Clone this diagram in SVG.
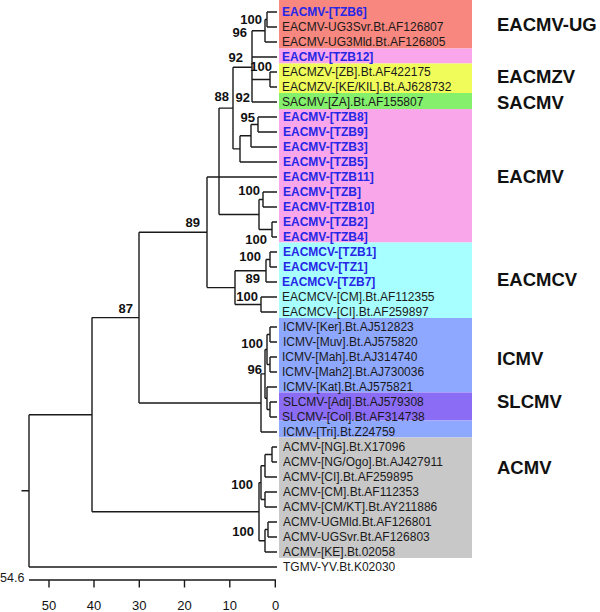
<svg xmlns="http://www.w3.org/2000/svg" width="600" height="612" viewBox="0 0 600 612">
<style>
.t{font-family:"Liberation Sans",Arial,sans-serif;font-size:12px;fill:#1a1a1a}
.b{font-family:"Liberation Sans",Arial,sans-serif;font-size:12px;font-weight:bold;fill:#2626e6}
.bs{font-family:"Liberation Sans",Arial,sans-serif;font-size:13px;font-weight:bold;fill:#111;text-anchor:end}
.cl{font-family:"Liberation Sans",Arial,sans-serif;font-size:18.5px;font-weight:bold;fill:#111}
.ax{font-family:"Liberation Sans",Arial,sans-serif;font-size:13px;fill:#111;text-anchor:middle}
.ln{fill:none;stroke:#1a1a1a;stroke-width:1.4}
</style>
<rect width="600" height="612" fill="#fff"/>
<g id="bands">
<rect x="279" y="0" width="193" height="48.5" fill="#f8877f"/>
<rect x="279" y="48.5" width="193" height="15" fill="#f9a7ea"/>
<rect x="279" y="63.5" width="193" height="29.5" fill="#f0fc5a"/>
<rect x="279" y="93" width="193" height="16" fill="#84f06c"/>
<rect x="279" y="109" width="193" height="133.5" fill="#f9a7ea"/>
<rect x="279" y="242.5" width="193" height="75.5" fill="#a8ffff"/>
<rect x="279" y="318" width="193" height="74.5" fill="#8fa8ff"/>
<rect x="279" y="392.5" width="193" height="28" fill="#8b6cf5"/>
<rect x="279" y="420.5" width="193" height="17" fill="#8fa8ff"/>
<rect x="279" y="437.5" width="193" height="120.5" fill="#c8c8c8"/>
</g>
<g id="connectors">
<path class="ln" d="M21.5 490.8H29M29 414.7V567M29 414.7H92M29 567H277
M92 317.6V511.7M92 317.6H139M92 511.7H259
M139 232.3V403M139 232.3H207M139 403H261
M207 177V287.6M207 177H277M207 287.6H235
M219 108.1V214.5M219 108.1H233M219 214.5H259
M233 67.3V148.9M233 67.3H252M233 148.9H240
M252 30.75V102M252 30.75H265M252 57H277M252 79.5H270M252 102H277
M265 19.5V42M265 19.5H267M265 42H277
M267 12V27M267 12H277M267 27H277
M270 72V87M270 72H277M270 87H277
M240 135.75V162M240 135.75H251M240 162H277
M251 124.5V147M251 124.5H258M251 147H277
M258 117V132M258 117H277M258 132H277
M259 199.5V229.5M259 199.5H263M259 229.5H272
M263 192V207M263 192H277M263 207H277
M272 222V237M272 222H277M272 237H277
M235 270.75V304.5M235 270.75H266M235 304.5H261
M266 259.5V282M266 259.5H270M266 282H277
M270 252V267M270 252H277M270 267H277
M261 297V312M261 297H277M261 312H277
M261 373.9V432M261 373.9H265M261 432H277
M265 349.5V398.25M265 349.5H267M265 398.25H267
M267 334.5V364.5M267 334.5H270M267 364.5H270
M270 327V342M270 327H277M270 342H277
M270 357V372M270 357H277M270 372H277
M267 387V409.5M267 387H277M267 409.5H270
M270 402V417M270 402H277M270 417H277
M259 482.6V540.75M259 482.6H261M259 540.75H265
M261 465.75V499.5M261 465.75H265M261 499.5H265
M265 454.5V477M265 454.5H272M265 477H277
M272 447V462M272 447H277M272 462H277
M265 492V507M265 492H277M265 507H277
M265 529.5V552M265 529.5H268M265 552H277
M268 522V537M268 522H277M268 537H277"/>
</g>
<g id="bootstrap">
<text class="bs" x="262" y="23.6">100</text>
<text class="bs" x="247" y="36.6">96</text>
<text class="bs" x="243" y="61.6">92</text>
<text class="bs" x="272" y="70.6">100</text>
<text class="bs" x="229" y="100.6">88</text>
<text class="bs" x="250" y="101.6">92</text>
<text class="bs" x="255" y="121.6">95</text>
<text class="bs" x="260" y="195">100</text>
<text class="bs" x="200" y="226.6">89</text>
<text class="bs" x="267" y="244">100</text>
<text class="bs" x="261" y="261">100</text>
<text class="bs" x="260" y="282.6">89</text>
<text class="bs" x="258" y="301">100</text>
<text class="bs" x="133" y="312.6">87</text>
<text class="bs" x="263" y="347.6">100</text>
<text class="bs" x="262" y="374">96</text>
<text class="bs" x="253" y="489">100</text>
<text class="bs" x="254" y="536">100</text>
</g>
<g id="leaves">
<g id="n1"><text class="b" x="282" y="16.3">EACMV-[TZB6]</text></g>
<g id="n2"><text class="t" x="282" y="31.3">EACMV-UG3Svr.Bt.AF126807</text></g>
<g id="n3"><text class="t" x="282" y="46.3">EACMV-UG3Mld.Bt.AF126805</text></g>
<g id="n4"><text class="b" x="282" y="61.3">EACMV-[TZB12]</text></g>
<g id="n5"><text class="t" x="282" y="76.3">EACMZV-[ZB].Bt.AF422175</text></g>
<g id="n6"><text class="t" x="282" y="91.3">EACMZV-[KE/KIL].Bt.AJ628732</text></g>
<g id="n7"><text class="t" x="282" y="106.3">SACMV-[ZA].Bt.AF155807</text></g>
<g id="n8"><text class="b" x="283" y="121.3">EACMV-[TZB8]</text></g>
<g id="n9"><text class="b" x="283" y="136.3">EACMV-[TZB9]</text></g>
<g id="n10"><text class="b" x="283" y="151.3">EACMV-[TZB3]</text></g>
<g id="n11"><text class="b" x="283" y="166.3">EACMV-[TZB5]</text></g>
<g id="n12"><text class="b" x="283" y="181.3">EACMV-[TZB11]</text></g>
<g id="n13"><text class="b" x="283" y="196.3">EACMV-[TZB]</text></g>
<g id="n14"><text class="b" x="283" y="211.3">EACMV-[TZB10]</text></g>
<g id="n15"><text class="b" x="283" y="226.3">EACMV-[TZB2]</text></g>
<g id="n16"><text class="b" x="283" y="241.3">EACMV-[TZB4]</text></g>
<g id="n17"><text class="b" x="283" y="256.3">EACMCV-[TZB1]</text></g>
<g id="n18"><text class="b" x="283" y="271.3">EACMCV-[TZ1]</text></g>
<g id="n19"><text class="b" x="282" y="286.3">EACMCV-[TZB7]</text></g>
<g id="n20"><text class="t" x="282" y="301.3">EACMCV-[CM].Bt.AF112355</text></g>
<g id="n21"><text class="t" x="282" y="316.3">EACMCV-[CI].Bt.AF259897</text></g>
<g id="n22"><text class="t" x="283" y="331.3">ICMV-[Ker].Bt.AJ512823</text></g>
<g id="n23"><text class="t" x="283" y="346.3">ICMV-[Muv].Bt.AJ575820</text></g>
<g id="n24"><text class="t" x="282" y="361.3">ICMV-[Mah].Bt.AJ314740</text></g>
<g id="n25"><text class="t" x="282" y="376.3">ICMV-[Mah2].Bt.AJ730036</text></g>
<g id="n26"><text class="t" x="283" y="391.3">ICMV-[Kat].Bt.AJ575821</text></g>
<g id="n27"><text class="t" x="283" y="406.3">SLCMV-[Adi].Bt.AJ579308</text></g>
<g id="n28"><text class="t" x="282" y="421.3">SLCMV-[Col].Bt.AF314738</text></g>
<g id="n29"><text class="t" x="283" y="436.3">ICMV-[Tri].Bt.Z24759</text></g>
<g id="n30"><text class="t" x="283" y="451.3">ACMV-[NG].Bt.X17096</text></g>
<g id="n31"><text class="t" x="283" y="466.3">ACMV-[NG/Ogo].Bt.AJ427911</text></g>
<g id="n32"><text class="t" x="283" y="481.3">ACMV-[CI].Bt.AF259895</text></g>
<g id="n33"><text class="t" x="283" y="496.3">ACMV-[CM].Bt.AF112353</text></g>
<g id="n34"><text class="t" x="283" y="511.3">ACMV-[CM/KT].Bt.AY211886</text></g>
<g id="n35"><text class="t" x="283" y="526.3">ACMV-UGMld.Bt.AF126801</text></g>
<g id="n36"><text class="t" x="283" y="541.3">ACMV-UGSvr.Bt.AF126803</text></g>
<g id="n37"><text class="t" x="283" y="556.3">ACMV-[KE].Bt.02058</text></g>
<g id="n38"><text class="t" x="283" y="571.3">TGMV-YV.Bt.K02030</text></g>
</g>
<g id="clades">
<text class="cl" x="497" y="30.6">EACMV-UG</text>
<text class="cl" x="497" y="82.6">EACMZV</text>
<text class="cl" x="497" y="108.6">SACMV</text>
<text class="cl" x="497" y="182.6">EACMV</text>
<text class="cl" x="497" y="285.6">EACMCV</text>
<text class="cl" x="497" y="364.6">ICMV</text>
<text class="cl" x="497" y="407.6">SLCMV</text>
<text class="cl" x="497" y="473.6">ACMV</text>
</g>
<g id="axis">
<path class="ln" d="M29 580H276M49 580V587.5M94 580V587.5M139.3 580V587.5M184.5 580V587.5M229.8 580V587.5M275.3 580V587.5"/>
<text class="t" x="0" y="582" style="font-size:12.5px">54.6</text>
<text class="ax" x="49" y="610">50</text>
<text class="ax" x="94" y="610">40</text>
<text class="ax" x="139.3" y="610">30</text>
<text class="ax" x="184.5" y="610">20</text>
<text class="ax" x="229.8" y="610">10</text>
<text class="ax" x="275.5" y="610">0</text>
</g>
</svg>
